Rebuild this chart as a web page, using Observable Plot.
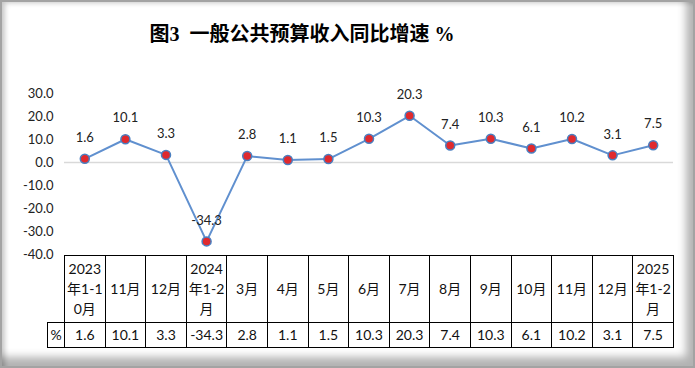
<!DOCTYPE html>
<html><head><meta charset="utf-8">
<script src="https://cdn.jsdelivr.net/npm/d3@7"></script>
<script src="https://cdn.jsdelivr.net/npm/@observablehq/plot@0.6"></script>
<style>
body{margin:0;background:#fff;}
#frame{position:absolute;left:0;top:0;width:695px;height:368px;box-sizing:border-box;border:2px solid #a3a3a3;
  box-shadow: inset -12px -14px 9px -5px rgba(0,0,0,.30), inset 6px 4px 5px -3px rgba(0,0,0,.22);}
#title{position:absolute;left:120px;width:364px;top:18px;text-align:center;font:bold 20px "Liberation Serif","Noto Sans CJK SC",serif;color:#000;white-space:pre;}
#chart{position:absolute;left:0;top:0;}
#tbl{position:absolute;top:255px;border-collapse:collapse;table-layout:fixed;font:14px Lato,"Noto Sans CJK SC",sans-serif;color:#111;}
#tbl td{border:1px solid #000;padding:0;text-align:center;white-space:pre-line;line-height:20px;box-sizing:border-box;}
#tbl tr.h td{height:67px;}
#tbl tr.v td{height:25px;}
#tbl td.blank{border-top:none;border-left:none;}
</style></head>
<body>
<div id="frame"></div>
<div id="title">图3  一般公共预算收入同比增速 %</div>
<div id="chart"></div>
<table id="tbl"></table>
<script>
const categories = ["2023\n年1-1\n0月","11月","12月","2024\n年1-2\n月","3月","4月","5月","6月","7月","8月","9月","10月","11月","12月","2025\n年1-2\n月"];
const values = [1.6,10.1,3.3,-34.3,2.8,1.1,1.5,10.3,20.3,7.4,10.3,6.1,10.2,3.1,7.5];
const yTicks = [30,20,10,0,-10,-20,-30,-40];
const rowLabel = "%";

const data = categories.map((c,i)=>({i, c, v: values[i]}));

const plot = Plot.plot({
  width: 695, height: 270,
  marginTop: 93, marginBottom: 16, marginLeft: 64, marginRight: 22,
  style: {background: "transparent", fontFamily: "Lato, sans-serif"},
  x: {type: "point", domain: d3.range(categories.length), padding: 0.5, round: false, axis: null},
  y: {domain: [-40, 30], label: null},
  marks: [
    Plot.axisY({ticks: yTicks, tickFormat: d => d.toFixed(1), tickSize: 0, tickPadding: 11, fontSize: 13, fill: "#222", label: null}),
    Plot.ruleY([0], {stroke: "#d9d9d9", strokeWidth: 1.5}),
    Plot.line(data, {x: "i", y: "v", stroke: "#6090cf", strokeWidth: 2}),
    Plot.dot(data, {x: "i", y: "v", r: 4.5, fill: "#e02a2e", stroke: "#4a7fc0", strokeWidth: 1.5}),
    Plot.text(data, {x: "i", y: "v", text: d => d.v.toFixed(1), dy: -21, fontSize: 13, fill: "#222"})
  ]
});
document.getElementById("chart").appendChild(plot);

// data table aligned to the x scale
const xs = plot.scale("x");
const step = (xs.range[1] - xs.range[0]) / categories.length;
const firstW = 17;
const tbl = document.getElementById("tbl");
tbl.style.left = (xs.range[0] - firstW) + "px";
tbl.style.width = (firstW + step * categories.length) + "px";
const cg = document.createElement("colgroup");
cg.innerHTML = `<col style="width:${firstW}px">` + categories.map(()=>`<col style="width:${step}px">`).join("");
tbl.appendChild(cg);
const h = document.createElement("tr"); h.className = "h";
h.innerHTML = `<td class="blank"></td>` + categories.map(c=>`<td>${c}</td>`).join("");
const v = document.createElement("tr"); v.className = "v";
v.innerHTML = `<td>${rowLabel}</td>` + values.map(x=>`<td>${x.toFixed(1)}</td>`).join("");
tbl.appendChild(h); tbl.appendChild(v);
</script>
</body></html>
